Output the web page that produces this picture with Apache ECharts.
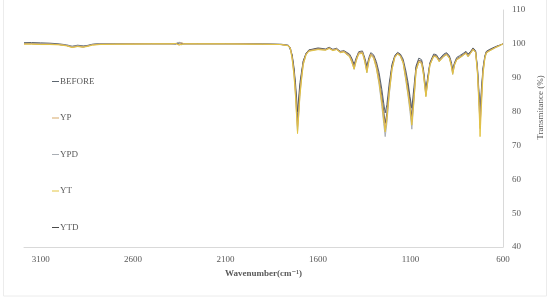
<!DOCTYPE html>
<html>
<head>
<meta charset="utf-8">
<script src="https://cdn.jsdelivr.net/npm/echarts@6/dist/echarts.min.js"></script>
<style>
    html, body { margin: 0; padding: 0; background: #fff; }
    #charts { width: 550px; height: 299px; }
</style>
</head>
<body>
<div id="charts"></div>
<script>
// 波数 (cm-1)
var wavenumbers = [
    3190,3150,3100,3050,3000,2960,2930,2900,2870,2850,
    2820,2780,2700,2600,2500,2400,2370,2360,2350,2340,
    2320,2250,2100,2000,1900,1800,1760,1750,1740,1730,
    1722,1716,1711,1705,1698,1690,1680,1665,1650,1600,
    1560,1540,1520,1500,1480,1460,1450,1430,1418,1405,
    1393,1380,1360,1348,1336,1325,1315,1300,1285,1270,
    1255,1245,1237,1228,1215,1200,1185,1170,1155,1140,
    1125,1113,1103,1093,1082,1070,1055,1040,1030,1017,
    1005,995,975,960,945,935,920,905,890,880,
    872,862,850,835,815,800,789,775,762,748,
    738,730,724,717,708,698,690,675,660,640,
    620,600
];

var seriesNames = ['BEFORE', 'YP', 'YPD', 'YT', 'YTD'];
var seriesColors = ['#5d6670', '#d6a868', '#a9aeb4', '#e3c443', '#4a4a4a'];

var before = [
    100.4,100.4,100.3,100.2,100.0,99.7,99.3,99.6,99.4,99.5,
    99.9,100.1,100.1,100.1,100.1,100.1,100.0,99.6,100.4,99.8,
    100.1,100.1,100.1,100.1,100.0,99.9,99.6,99.1,96.8,93.0,
    88.5,84.0,80.0,84.0,88.5,91.5,95.0,97.2,98.2,98.8,
    98.5,99.0,98.4,98.7,97.8,98.0,97.6,97.0,95.8,94.0,
    96.0,97.7,97.9,96.0,93.5,96.0,97.4,96.8,94.8,91.5,
    86.5,82.5,79.6,82.0,88.5,94.0,96.6,97.5,97.0,95.5,
    92.0,88.5,84.5,81.0,87.0,93.5,95.8,95.3,92.5,86.5,
    91.0,94.5,97.0,96.8,95.5,95.0,97.0,97.4,96.5,94.8,
    92.5,94.5,96.0,96.5,97.2,97.8,97.0,97.8,98.8,98.0,
    93.0,86.0,80.0,86.5,93.0,96.5,97.8,98.3,98.7,99.2,
    99.6,100.0
];
var yp = [
    100.0,100.0,99.9,99.9,99.8,99.5,99.0,99.3,99.1,99.3,
    99.7,99.9,99.9,100.0,100.0,100.0,100.1,100.5,99.6,100.3,
    100.0,100.0,100.0,100.0,99.9,99.8,99.5,98.8,96.0,91.5,
    86.0,80.0,75.5,80.0,86.0,90.0,94.5,97.0,98.0,98.5,
    98.3,98.8,98.2,98.5,97.6,97.8,97.3,96.6,95.2,93.0,
    95.5,97.4,97.6,95.4,92.0,95.4,97.0,96.3,93.8,89.5,
    83.5,79.0,75.0,78.5,86.5,93.0,96.2,97.2,96.6,94.8,
    90.0,86.0,82.0,77.0,84.0,92.5,95.0,94.6,91.5,85.0,
    90.0,94.0,96.5,96.4,95.0,94.5,96.5,97.0,96.0,94.0,
    91.5,94.0,95.5,96.0,96.8,97.4,96.4,97.4,98.5,97.6,
    92.0,83.0,75.0,83.5,92.0,96.0,97.5,98.0,98.4,99.0,
    99.5,100.0
];
var ypd = [
    100.2,100.1,100.0,99.9,99.8,99.6,99.2,99.4,99.2,99.3,
    99.8,100.0,100.0,100.0,100.0,100.0,100.1,99.7,100.5,99.7,
    100.0,100.0,100.0,100.0,99.9,99.8,99.5,98.7,95.6,91.0,
    85.0,79.0,74.0,79.0,85.0,89.5,94.0,96.8,97.9,98.4,
    98.2,98.7,98.1,98.4,97.5,97.7,97.2,96.4,94.8,92.5,
    95.2,97.2,97.4,95.0,91.5,95.0,96.8,96.0,93.0,88.0,
    81.5,76.5,72.6,76.5,85.0,92.5,96.0,97.0,96.4,94.3,
    89.0,84.5,80.0,74.8,82.5,92.0,94.7,94.3,91.0,84.5,
    89.5,93.8,96.3,96.2,94.8,94.3,96.3,96.8,95.8,93.7,
    91.0,93.8,95.3,95.8,96.6,97.2,96.2,97.2,98.3,97.4,
    91.5,83.0,76.0,83.0,91.5,95.8,97.3,97.9,98.3,98.9,
    99.4,100.0
];
var yt = [
    99.9,99.9,99.8,99.8,99.7,99.4,98.9,99.2,99.0,99.2,
    99.6,99.8,99.9,99.9,100.0,100.0,100.1,100.4,99.7,100.2,
    100.0,100.0,100.0,99.9,99.9,99.8,99.4,98.6,95.4,90.5,
    84.5,78.5,73.5,78.5,84.5,89.0,93.8,96.7,97.8,98.3,
    98.1,98.6,98.0,98.3,97.4,97.6,97.0,96.2,94.6,92.5,
    95.0,97.0,97.2,94.8,91.5,94.8,96.6,95.8,92.8,88.5,
    82.5,77.5,74.0,77.5,85.5,92.5,95.9,97.0,96.3,94.3,
    89.5,85.0,81.0,76.0,83.0,92.0,94.6,94.2,90.8,84.4,
    89.5,93.7,96.3,96.1,94.7,94.2,96.3,96.8,95.7,93.5,
    91.0,93.7,95.3,95.8,96.6,97.2,96.2,97.2,98.3,97.4,
    91.0,81.5,72.6,81.0,91.0,95.7,97.3,97.8,98.3,98.9,
    99.4,100.0
];
var ytd = [
    100.1,100.1,100.0,99.9,99.8,99.5,99.1,99.3,99.1,99.3,
    99.8,99.9,100.0,100.0,100.0,100.0,100.0,99.8,100.3,99.8,
    100.0,100.0,100.0,100.0,99.9,99.8,99.5,98.9,96.4,92.3,
    87.0,82.0,77.0,82.0,87.0,90.8,94.8,97.1,98.1,98.6,
    98.3,98.8,98.2,98.5,97.6,97.8,97.4,96.7,95.4,93.3,
    95.6,97.4,97.6,95.5,92.5,95.5,97.0,96.4,94.0,90.0,
    84.5,80.0,76.5,79.5,87.0,93.5,96.3,97.2,96.7,94.9,
    90.5,87.0,83.0,78.5,85.0,93.0,95.2,94.8,91.8,85.5,
    90.5,94.2,96.6,96.5,95.1,94.6,96.6,97.1,96.1,94.2,
    91.8,94.2,95.6,96.1,96.9,97.5,96.5,97.5,98.6,97.7,
    92.5,84.5,78.0,85.0,92.5,96.2,97.6,98.1,98.5,99.1,
    99.5,100.0
];

// 刻度
var xTicks = [600, 1100, 1600, 2100, 2600, 3100];

var textColor = '#595959';
var fontFamily = '"Liberation Serif", "DejaVu Serif", serif';

var toPairs = function(values) {
    var pairs = [];
    for (var i = 0; i < wavenumbers.length; i++) {
        pairs.push([wavenumbers[i], values[i]]);
    }
    return pairs;
};

var allValues = [before, yp, ypd, yt, ytd];

var buildSeries = function() {
    var list = [];
    // 绘制顺序: BEFORE 在最下面, YT 在最上面
    var order = [0, 4, 2, 1, 3];
    for (var k = 0; k < order.length; k++) {
        var i = order[k];
        list.push({
            name: seriesNames[i],
            type: 'line',
            data: toPairs(allValues[i]),
            symbol: 'none',
            smooth: false,
            lineStyle: { color: seriesColors[i], width: 1 },
            itemStyle: { color: seriesColors[i] }
        });
    }
    return list;
};

var option = {
    animation: false,
    backgroundColor: '#fff',
    grid: {
        left: 24,
        right: 47,
        top: 10,
        bottom: 52,
        containLabel: false,
        outerBoundsMode: 'none'
    },
    legend: {
        orient: 'vertical',
        left: 47,
        top: 72,
        itemGap: 27.5,
        itemWidth: 7,
        itemHeight: 1,
        icon: 'rect',
        data: seriesNames,
        textStyle: {
            color: textColor,
            fontFamily: fontFamily,
            fontSize: 9,
            padding: [0, 0, 0, -4]
        }
    },
    xAxis: {
        type: 'value',
        inverse: true,
        min: 600,
        max: 3190,
        name: 'Wavenumber(cm⁻¹)',
        nameLocation: 'middle',
        nameGap: 22,
        nameTextStyle: {
            color: textColor,
            fontFamily: fontFamily,
            fontSize: 9,
            fontWeight: 'bold'
        },
        axisLine: { lineStyle: { color: '#d9d9d9', width: 1 } },
        axisTick: { show: false },
        splitLine: { show: false },
        axisLabel: {
            customValues: xTicks,
            formatter: function(value) {
                return String(value);
            },
            color: textColor,
            fontFamily: fontFamily,
            fontSize: 9,
            margin: 8
        }
    },
    yAxis: {
        type: 'value',
        position: 'right',
        min: 40,
        max: 110,
        interval: 10,
        name: 'Transmitance (%)',
        nameLocation: 'middle',
        nameRotate: 90,
        nameGap: 21,
        nameTextStyle: {
            color: textColor,
            fontFamily: fontFamily,
            fontSize: 9,
            padding: [0, 0, 0, 42]
        },
        axisLine: { show: true, lineStyle: { color: '#d9d9d9', width: 1 } },
        axisTick: { show: false },
        splitLine: { show: false },
        axisLabel: {
            color: textColor,
            fontFamily: fontFamily,
            fontSize: 9,
            margin: 9
        }
    },
    graphic: [{
        type: 'rect',
        shape: { x: 3.5, y: -1, width: 543, height: 297 },
        style: { fill: 'none', stroke: '#ececec', lineWidth: 1 },
        silent: true
    }],
    series: buildSeries()
};

var myChart = echarts.init(document.getElementById('charts'));
myChart.setOption(option);
</script>
</body>
</html>
